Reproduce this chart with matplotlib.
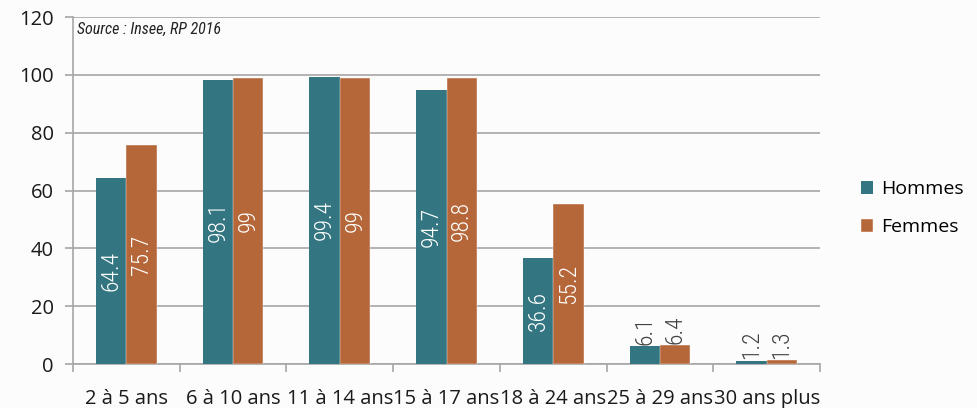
import matplotlib
matplotlib.use("Agg")
import matplotlib.pyplot as plt
import numpy as np

categories = ["2 à 5 ans", "6 à 10 ans", "11 à 14 ans", "15 à 17 ans", "18 à 24 ans", "25 à 29 ans", "30 ans plus"]
hommes = [64.4, 98.1, 99.4, 94.7, 36.6, 6.1, 1.2]
femmes = [75.7, 99, 99, 98.8, 55.2, 6.4, 1.3]
yticks = [0, 20, 40, 60, 80, 100, 120]

narrow = "Roboto Condensed"
main = "Open Sans"

teal = "#337580"
orange = "#b56739"
grid = "#a6a6a6"

fig = plt.figure(figsize=(9.77, 4.08), dpi=100)
fig.patch.set_facecolor("#fcfcfc")
ax = fig.add_axes([73/977, 44/408, 747/977, 347/408])
ax.set_facecolor("#fcfcfc")

x = np.arange(len(categories))
w = 0.285
b1 = ax.bar(x - w/2, hommes, w, color=teal, zorder=3)
b2 = ax.bar(x + w/2, femmes, w, color=orange, zorder=3, edgecolor="white", linewidth=0.3)

for bars, vals in ((b1, hommes), (b2, femmes)):
    for rect, v in zip(bars, vals):
        cx = rect.get_x() + rect.get_width()/2
        txt = f"{v:g}"
        if v > 20:
            ax.text(cx, v/2, txt, rotation=90, ha="center", va="center", color="white",
                    fontsize=17, family=narrow, fontweight="light", zorder=4)
        else:
            ax.text(cx, v + 0.6, txt, rotation=90, ha="center", va="bottom", color="#404040",
                    fontsize=17, family=narrow, fontweight="light", zorder=4)

ax.set_xlim(-0.5, len(categories) - 0.5)
ax.set_ylim(0, 120)
ax.set_yticks(yticks)
ax.set_yticklabels([str(t) for t in yticks], fontsize=14.5, family=main, color="#1a1a1a")
ax.set_xticks(x)
ax.set_xticklabels(categories, fontsize=14.5, family=main, color="#1a1a1a")
ax.set_xticks(np.arange(-0.5, len(categories)), minor=True)
ax.tick_params(axis="x", which="major", length=0, pad=18)
ax.tick_params(axis="x", which="minor", length=6, color=grid, width=1.2)
ax.tick_params(axis="y", length=6, color=grid, width=1.2, pad=8)
ax.yaxis.grid(True, color=grid, linewidth=1.2, zorder=0)
for s in ("top", "right"):
    ax.spines[s].set_visible(False)
for s in ("left", "bottom"):
    ax.spines[s].set_color(grid)
    ax.spines[s].set_linewidth(1.2)

ax.text(0.006, 0.985, "Source : Insee, RP 2016", transform=ax.transAxes, ha="left", va="top",
        fontsize=11.5, style="italic", family=narrow, color="#222222")

leg = fig.legend([b1, b2], ["Hommes", "Femmes"], loc="center left", bbox_to_anchor=(843/977, 0.49),
                 frameon=False, prop={"family": main, "size": 14},
                 handlelength=0.65, handleheight=0.65, handletextpad=0.4, labelspacing=1.05)

fig.savefig("out.png", dpi=100, facecolor=fig.get_facecolor())
